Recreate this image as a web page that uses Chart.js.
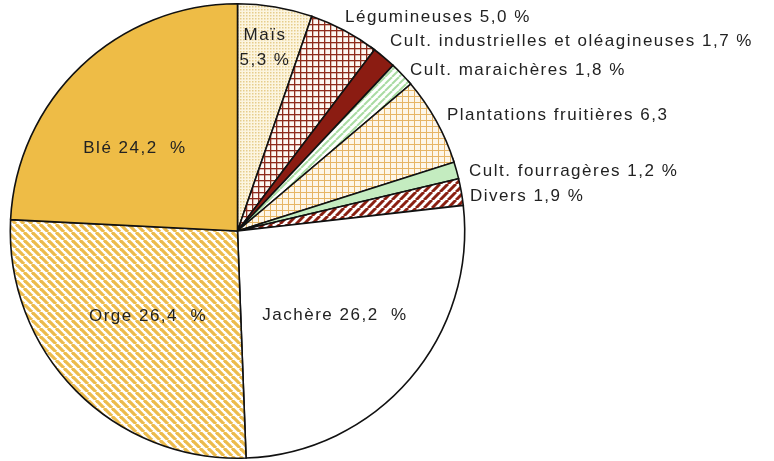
<!DOCTYPE html>
<html>
<head>
<meta charset="utf-8">
<script src="https://cdn.jsdelivr.net/npm/chart.js@4.4.1/dist/chart.umd.min.js"></script>
<style>
    body { margin: 0; background: #fff; }
    #camembert { display: block; }
</style>
</head>
<body>
<canvas id="camembert" width="774" height="461"></canvas>
<script>
// répartition des terres arables (%), dans le sens horaire depuis midi
const cultures = ['Maïs', 'Légumineuses', 'Cult. industrielles et oléagineuses', 'Cult. maraichères',
    'Plantations fruitières', 'Cult. fourragères', 'Divers', 'Jachère', 'Orge', 'Blé'];
const parts = [5.3, 5.0, 1.7, 1.8, 6.3, 1.2, 1.9, 26.2, 26.4, 24.2];

// position des étiquettes [x, y, alignement]
const etiquettes = [
    [265, 35, 'center'],
    [345, 17, 'left'],
    [390, 41, 'left'],
    [410, 70, 'left'],
    [447, 115, 'left'],
    [469, 171, 'left'],
    [470, 196, 'left'],
    [335, 315, 'center'],
    [148, 316, 'center'],
    [135, 148, 'center']
];

function motif(taille, dessin) {
    const c = document.createElement('canvas');
    c.width = taille;
    c.height = taille;
    const g = c.getContext('2d');
    dessin(g, taille);
    return document.getElementById('camembert').getContext('2d').createPattern(c, 'repeat');
}

function rayures(fond, couleur, taille, epaisseur, sens) {
    return motif(taille, function (g, s) {
        g.fillStyle = fond;
        g.fillRect(0, 0, s, s);
        g.strokeStyle = couleur;
        g.lineWidth = epaisseur;
        for (let k = -1; k <= 1; k++) {
            g.beginPath();
            if (sens > 0) {
                g.moveTo(k * s, s);
                g.lineTo(k * s + s, 0);
            } else {
                g.moveTo(k * s, 0);
                g.lineTo(k * s + s, s);
            }
            g.stroke();
        }
    });
}

function quadrillage(fond, couleur, taille, epaisseur) {
    return motif(taille, function (g, s) {
        g.fillStyle = fond;
        g.fillRect(0, 0, s, s);
        g.fillStyle = couleur;
        g.fillRect(0, 0, s, epaisseur);
        g.fillRect(0, 0, epaisseur, s);
    });
}

function points(fond, couleur, taille) {
    return motif(taille, function (g, s) {
        g.fillStyle = fond;
        g.fillRect(0, 0, s, s);
        g.fillStyle = couleur;
        g.fillRect(0, 0, 1.5, 1.5);
    });
}

const couleurs = [
    points('#fcf5e0', '#e6cd8c', 3),
    quadrillage('#fdf8f2', '#8f2c1c', 6, 1.3),
    '#8b1c12',
    rayures('#ffffff', '#a9dca2', 7, 2, 1),
    quadrillage('#fdf6e8', '#e6b565', 6, 1),
    '#c4ecc0',
    rayures('#ffffff', '#8a2012', 8, 3, 1),
    '#ffffff',
    rayures('#ffffff', '#ecbb4c', 8, 3.2, -1),
    '#eebc46'
];

function texteValeur(i) {
    const v = parts[i].toFixed(1).replace('.', ',');
    if (i === 4) return cultures[i] + ' ' + v;
    if (i >= 7) return cultures[i] + ' ' + v + '  %';
    return cultures[i] + ' ' + v + ' %';
}

const pluginEtiquettes = {
    id: 'etiquettes',
    afterDraw(chart) {
        const ctx = chart.ctx;
        ctx.save();
        ctx.font = '17px "Liberation Sans", Arial, sans-serif';
        ctx.fillStyle = '#222';
        ctx.textBaseline = 'middle';
        ctx.letterSpacing = '1.5px';
        etiquettes.forEach(function (p, i) {
            ctx.textAlign = p[2];
            if (i === 0) {
                ctx.fillText(cultures[0], p[0], p[1]);
                ctx.fillText(parts[0].toFixed(1).replace('.', ',') + ' %', p[0], p[1] + 25);
            } else {
                ctx.fillText(texteValeur(i), p[0], p[1]);
            }
        });
        ctx.restore();
    }
};

new Chart(document.getElementById('camembert'), {
    type: 'pie',
    data: {
        labels: cultures,
        datasets: [{
            data: parts,
            backgroundColor: couleurs,
            borderColor: '#111',
            borderWidth: 1.6,
            borderJoinStyle: 'miter'
        }]
    },
    options: {
        responsive: false,
        animation: false,
        layout: {
            padding: { left: 9, top: 3, right: 308, bottom: 2 }
        },
        plugins: {
            legend: { display: false },
            tooltip: { enabled: false }
        }
    },
    plugins: [pluginEtiquettes]
});
</script>
</body>
</html>
